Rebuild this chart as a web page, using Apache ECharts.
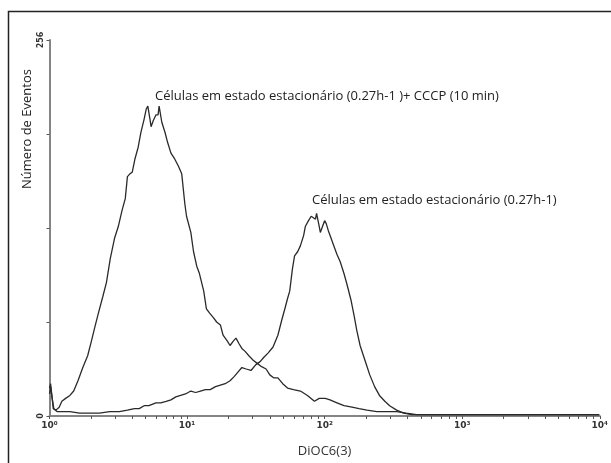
<!DOCTYPE html>
<html>
<head>
<meta charset="utf-8">
<script src="https://cdn.jsdelivr.net/npm/echarts@6/dist/echarts.min.js"></script>
<style>
  html, body { margin: 0; padding: 0; background: #fff; }
  #chart { width: 611px; height: 463px; }
</style>
</head>
<body>
<div id="chart"></div>
<script>
// canais do citómetro (0-1023, 4 décadas log) e contagens por canal
var cccpChannel = [0, 2, 5, 7, 12, 18, 23, 30, 38, 45, 53, 62, 71, 78, 84, 91, 99, 106, 113, 121,
  128, 135, 141, 145, 150, 154, 159, 165, 170, 176, 180, 183, 187, 189, 193, 198, 202, 204, 206, 209,
  215, 220, 226, 233, 240, 246, 252, 255, 263, 268, 274, 279, 287, 292, 298, 305, 311, 318, 323, 331,
  336, 342, 347, 353, 358, 364, 371, 379, 386, 393, 403, 410, 417, 425, 434, 443, 454, 467, 480, 493,
  502, 513, 522, 535, 548, 563, 576, 591, 609, 628, 646, 664, 683, 720, 775, 867, 941, 1023];
var cccpCount = [19, 22, 12, 5, 4, 6, 10, 12, 14, 17, 24, 33, 41, 51, 60, 70, 81, 91, 107, 121,
  129, 140, 148, 163, 165, 166, 175, 183, 193, 202, 209, 211, 202, 197, 201, 205, 205, 211, 211, 200,
  193, 186, 179, 175, 170, 165, 144, 136, 125, 112, 102, 97, 85, 73, 70, 67, 64, 62, 55, 51,
  48, 51, 53, 49, 46, 44, 41, 38, 36, 34, 32, 28, 26, 26, 22, 19, 18, 17, 14, 10,
  12, 12, 11, 9, 7, 6, 5, 4, 3, 3, 3, 2, 1, 1, 1, 1, 1, 1];

var steadyChannel = [0, 2, 5, 8, 14, 23, 38, 56, 75, 93, 112, 130, 145, 158, 167, 176, 185, 198, 207, 217,
  226, 235, 244, 253, 263, 272, 281, 290, 299, 309, 318, 327, 336, 344, 351, 358, 366, 375, 384, 392,
  399, 407, 416, 425, 432, 438, 443, 447, 452, 456, 462, 467, 473, 476, 482, 487, 491, 495, 497, 499,
  502, 504, 508, 512, 515, 519, 522, 528, 535, 541, 548, 554, 561, 567, 572, 578, 587, 596, 605, 614,
  624, 633, 646, 659, 674, 692, 720, 775, 867, 941, 1023];
var steadyCount = [15, 20, 12, 5, 3, 3, 3, 2, 2, 2, 3, 3, 4, 5, 5, 7, 7, 9, 9, 10,
  11, 13, 14, 15, 17, 16, 17, 18, 18, 20, 21, 22, 24, 27, 30, 33, 32, 31, 35, 37,
  40, 43, 47, 55, 65, 73, 80, 85, 100, 109, 112, 116, 123, 129, 133, 136, 135, 134, 138, 137,
  129, 125, 129, 133, 131, 126, 123, 117, 110, 105, 97, 89, 79, 68, 58, 48, 38, 28, 20, 14,
  10, 7, 4, 2, 1, 1, 1, 1, 1, 1, 1];

var decadeLabels = ['10⁰', '10¹', '10²', '10³', '10⁴'];
var decadeChannels = [0, 256, 512, 768, 1024];
var minorK = [2, 3, 4, 5, 6, 7, 8, 9];

var tickValues = [];
decadeChannels.forEach(function (c, i) {
  tickValues.push(c);
  if (i < decadeChannels.length - 1) {
    minorK.forEach(function (k) { tickValues.push(c + 256 * Math.log10(k)); });
  }
});

function pairs(xs, ys) {
  return xs.map(function (x, i) { return [x, ys[i]]; });
}

var myChart = echarts.init(document.getElementById('chart'));

var lineStyle = { color: '#2a2a2a', width: 1.3 };
var axisGray = '#858585';
var textFont = '13px "Open Sans"';

var option = {
  animation: false,
  grid: { left: 49.5, right: 6, top: 40, bottom: 45 },
  xAxis: {
    type: 'value',
    min: 0,
    max: 1024,
    name: 'DiOC6(3)',
    nameLocation: 'middle',
    nameGap: 29,
    nameTextStyle: { fontFamily: 'Open Sans', fontSize: 13, color: '#333' },
    axisLine: { lineStyle: { color: axisGray, width: 2 } },
    axisTick: { customValues: tickValues, length: 3, lineStyle: { color: '#555' } },
    axisLabel: {
      customValues: decadeChannels,
      formatter: function (v) { return decadeLabels[decadeChannels.indexOf(v)]; },
      fontSize: 9, fontWeight: 'bold', color: '#333', margin: 5,
      fontFamily: 'DejaVu Sans'
    },
    splitLine: { show: false }
  },
  yAxis: {
    type: 'value',
    min: 0,
    max: 256,
    interval: 64,
    axisLine: { show: true, lineStyle: { color: axisGray, width: 2 } },
    axisTick: { show: true, length: 3, lineStyle: { color: '#555' } },
    axisLabel: {
      rotate: 90,
      formatter: function (v) { return (v === 0 || v === 256) ? String(v) : ''; },
      fontSize: 8, fontWeight: 'bold', color: '#333', margin: 5,
      fontFamily: 'DejaVu Sans'
    },
    splitLine: { show: false }
  },
  graphic: [
    {
      type: 'rect', silent: true,
      shape: { x: 8.5, y: 11.5, width: 700, height: 500 },
      style: { fill: 'none', stroke: '#222', lineWidth: 1.5 }
    },
    {
      type: 'text', x: 27, y: 129, rotation: Math.PI / 2,
      style: { text: 'Número de Eventos', font: textFont, fill: '#222', align: 'center', verticalAlign: 'middle' }
    },
    {
      type: 'text', left: 155, top: 90,
      style: { text: 'Células em estado estacionário (0.27h-1 )+ CCCP (10 min)', font: textFont, fill: '#222' }
    },
    {
      type: 'text', left: 312, top: 194,
      style: { text: 'Células em estado estacionário (0.27h-1)', font: textFont, fill: '#222' }
    }
  ],
  series: [
    {
      name: 'CCCP',
      type: 'line',
      data: pairs(cccpChannel, cccpCount),
      showSymbol: false,
      lineStyle: lineStyle
    },
    {
      name: 'Estacionário',
      type: 'line',
      data: pairs(steadyChannel, steadyCount),
      showSymbol: false,
      lineStyle: lineStyle
    }
  ]
};

myChart.setOption(option);
</script>
</body>
</html>
